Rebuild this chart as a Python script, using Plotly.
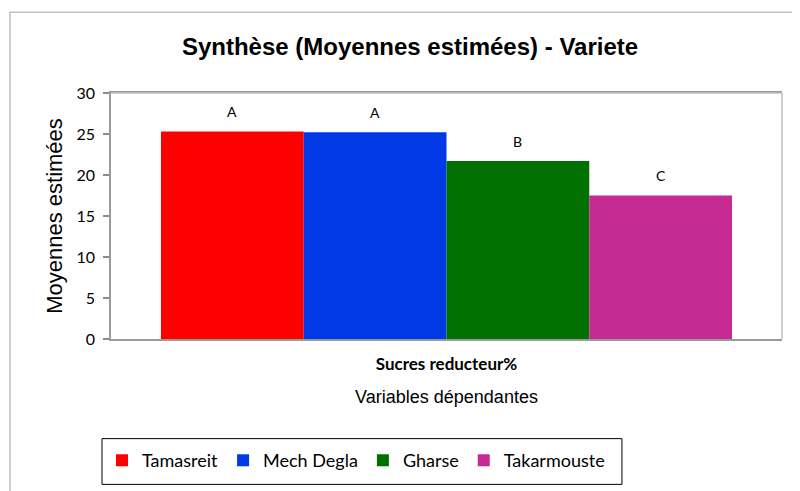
import plotly.graph_objects as go

category = "Sucres reducteur%"
varieties = ["Tamasreit", "Mech Degla", "Gharse", "Takarmouste"]
means = [25.3, 25.2, 21.7, 17.5]
groups = ["A", "A", "B", "C"]
colors = ["#FF0000", "#003AE6", "#007100", "#C62A93"]
y_ticks = [0, 5, 10, 15, 20, 25, 30]

fig = go.Figure()
positions = list(range(len(varieties)))
for i, (name, val, col) in enumerate(zip(varieties, means, colors)):
    fig.add_trace(go.Bar(
        x=[positions[i]], y=[val], name=name, width=1.0,
        marker=dict(color=col, line=dict(width=0)),
        hoverinfo="name+y",
    ))
    fig.add_annotation(
        x=positions[i], y=val, text=groups[i], showarrow=False,
        yshift=20, font=dict(family="Lato, Open Sans, sans-serif", size=14, color="#000000"),
    )

center = (positions[0] + positions[-1]) / 2
fig.update_layout(
    width=792, height=483,
    margin=dict(l=103, r=18, t=85, b=143),
    paper_bgcolor="white", plot_bgcolor="white",
    barmode="overlay",
    title=dict(text="<b>Synthèse (Moyennes estimées) - Variete</b>",
               x=0.5076, xanchor="center", y=0.921, yanchor="middle",
               font=dict(family="Liberation Sans, Arial, sans-serif", size=24, color="#000000")),
    xaxis=dict(
        range=[positions[0] - 0.85, positions[-1] + 0.85],
        tickvals=[center], ticktext=["<b>" + category + "</b>"],
        tickfont=dict(family="Lato, Open Sans, sans-serif", size=17, color="#000000"),
        ticks="", ticklabelstandoff=9,
        showgrid=False, zeroline=False, automargin=False,
        showline=True, linecolor="#9A9A9A", linewidth=1.5, mirror=True,
        title=dict(text="Variables dépendantes", standoff=17,
                   font=dict(family="Liberation Sans, Arial, sans-serif", size=18, color="#000000")),
        fixedrange=True,
    ),
    yaxis=dict(
        range=[0, 30], tickvals=y_ticks,
        tickfont=dict(family="Lato, Open Sans, sans-serif", size=16, color="#000000"),
        ticks="outside", ticklen=6, tickcolor="#8A8A8A", tickwidth=1.5,
        ticklabelstandoff=5,
        showgrid=False, zeroline=False, automargin=False,
        showline=True, linecolor="#9A9A9A", linewidth=1.5, mirror=False,
        title=dict(text="Moyennes estimées", standoff=8,
                   font=dict(family="Liberation Sans, Arial, sans-serif", size=22, color="#000000")),
    ),
    showlegend=True,
    legend=dict(
        orientation="h", x=-0.0134, xanchor="left", y=-0.419, yanchor="top",
        bordercolor="#000000", borderwidth=0, bgcolor="rgba(0,0,0,0)",
        font=dict(family="Lato, Open Sans, sans-serif", size=18, color="#000000"),
        itemwidth=30, traceorder="normal",
    ),
)

# top & right plot border (light grey) and outer chart frame
fig.add_shape(type="line", xref="paper", yref="paper", x0=0, x1=1, y0=1, y1=1,
              line=dict(color="#BFBFBF", width=1.5))
fig.add_shape(type="line", xref="paper", yref="paper", x0=1, x1=1, y0=0, y1=1,
              line=dict(color="#BFBFBF", width=1.5))
fig.add_shape(type="rect", xref="paper", yref="paper", x0=-0.1505, x1=1.2, y0=-0.8, y1=1.328,
              line=dict(color="#BFBFBF", width=1.5), fillcolor="rgba(0,0,0,0)", layer="below")
# legend frame
fig.add_shape(type="rect", xref="paper", yref="paper", x0=-0.0134, x1=0.7615, y0=-0.591, y1=-0.405,
              line=dict(color="#000000", width=1), fillcolor="rgba(0,0,0,0)")

fig.write_html("out.html")
